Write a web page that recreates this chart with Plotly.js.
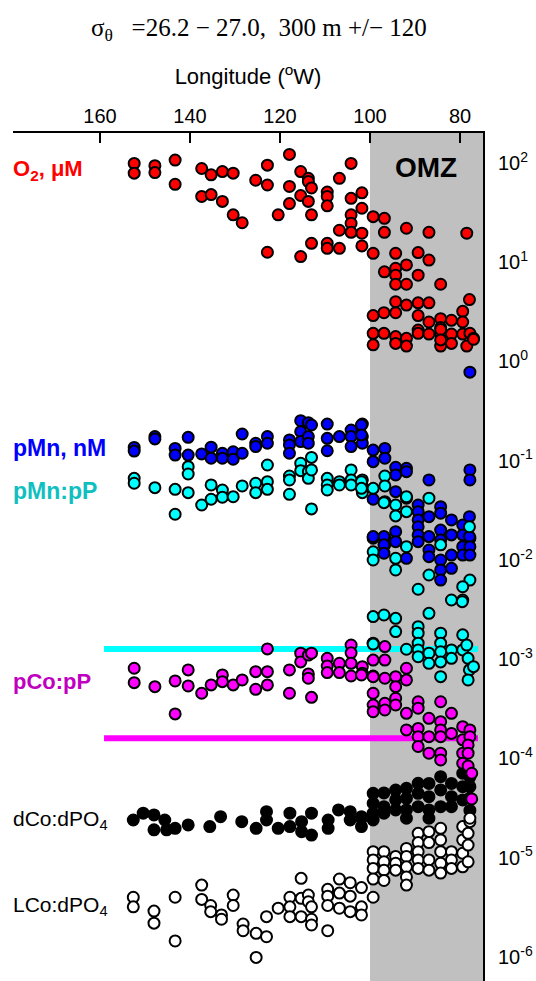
<!DOCTYPE html>
<html>
<head>
<meta charset="utf-8">
<script src="https://cdn.plot.ly/plotly-3.0.1.min.js"></script>
<style>html,body{margin:0;padding:0;background:#fff;}#chart{width:536px;height:981px;}</style>
</head>
<body>
<div id="chart"></div>
<script>
// ---- Data (longitude °W, value) ----
const o2Lon = [152.4,152.4,147.8,147.8,143.3,143.3,137.4,135.3,132.8,130.4,137.4,135.3,132.8,130.4,128.4,125.4,122.8,122.8,122.8,120.4,117.9,117.9,117.9,115.4,115.4,115.4,113.7,113.7,113.0,113.7,113.0,113.0,109.5,109.5,109.5,109.5,109.5,106.8,106.8,106.8,104.2,104.2,104.2,104.2,104.2,101.8,101.8,101.8,101.8,99.3,99.3,96.8,96.8,96.8,91.9,86.9,78.5,94.3,89.3,86.9,94.3,94.3,91.9,89.3,94.3,91.9,84.3,99.3,96.9,94.3,94.3,91.9,89.3,86.9,89.3,89.3,86.9,84.3,84.3,81.9,79.4,79.4,77.9,99.3,96.9,94.3,91.9,89.3,86.9,84.3,81.9,79.4,77.8,77.0,99.3,94.3,91.9,84.3,81.9,78.5,84.3,84.3,77.0];
const o2Val = [99,79,94,80,107,61,88,76,82,79,46,48,41,30,25,67,95,60,12.6,30,122,58,39,82,47,11.4,70,65,56,41,30,15.5,51,46,37,15.5,13.8,70,21,13.8,99,44,30,24.7,20,50,35,19.6,14.6,28.8,12.3,27.7,20,8.0,22,20,19.6,12.3,12.5,10.5,8.7,7.4,9.4,7.4,6.0,6.0,6.0,2.9,3.1,3.1,4.0,3.7,3.9,3.9,2.9,2.07,2.5,2.7,2.2,2.6,3.2,2.5,4.2,1.92,1.92,1.78,1.71,1.92,1.89,1.89,1.89,1.89,1.92,1.71,1.47,1.52,1.43,1.43,1.52,1.43,2.1,1.65,1.67];

const pmnLon = [152.4,152.4,147.8,147.8,143.3,143.3,140.4,140.4,137.4,135.3,135.3,132.8,132.8,130.4,130.4,128.4,128.4,125.4,125.4,122.8,122.8,117.9,117.9,117.9,115.4,115.4,115.4,113.7,113.0,113.7,113.7,109.5,109.5,109.5,106.8,104.2,104.2,104.2,101.7,101.7,101.7,99.3,99.3,99.3,96.7,96.7,99.3,96.7,96.7,101.9,101.9,94.3,94.3,91.9,91.9,86.9,77.8,77.8,94.3,91.9,89.3,89.3,89.3,86.9,84.3,84.3,81.9,79.4,77.9,77.8,99.3,96.9,96.9,96.9,94.3,94.3,91.9,89.3,89.3,89.3,86.9,86.9,86.9,84.3,84.3,84.3,84.3,84.3,81.9,81.9,81.9,79.4,79.4,79.4,77.9,77.8,77.8,77.8];
const pmnVal = [0.136,0.125,0.175,0.166,0.133,0.114,0.172,0.114,0.117,0.137,0.106,0.119,0.106,0.123,0.1035,0.186,0.119,0.150,0.139,0.175,0.150,0.162,0.144,0.119,0.253,0.196,0.156,0.242,0.229,0.175,0.150,0.234,0.168,0.126,0.175,0.204,0.175,0.139,0.234,0.175,0.150,0.128,0.0978,0.0409,0.133,0.106,0.0166,0.0166,0.0142,0.229,0.182,0.0859,0.0718,0.0839,0.0776,0.064,0.0807,0.064,0.0488,0.0419,0.0358,0.0307,0.0253,0.0273,0.0344,0.0296,0.0253,0.0225,0.0273,0.0166,0.0172,0.0172,0.0142,0.0117,0.0193,0.0153,0.0104,0.0216,0.0179,0.0153,0.0172,0.0126,0.0108,0.0200,0.0159,0.0100,0.00793,0.00628,0.0179,0.0112,0.00824,0.0179,0.0136,0.0112,0.0172,0.0136,0.0112,0.78];

const pmnpLon = [152.4,152.4,147.8,143.3,143.3,140.4,140.4,140.4,137.4,135.3,135.3,132.8,132.8,130.4,128.4,125.4,125.4,122.8,122.8,122.8,117.9,117.9,117.9,115.4,115.4,113.7,113.7,113.0,113.0,113.0,109.5,109.5,109.5,106.8,106.8,104.2,104.2,104.2,101.7,101.7,101.7,99.3,96.7,96.7,96.7,101.9,101.9,96.9,94.3,94.3,91.9,91.9,86.9,77.9,91.9,84.3,99.3,99.3,94.3,94.3,86.9,89.3,77.8,79.4,81.9,79.4,99.3,96.9,94.3,94.3,86.9,79.5,99.3,91.9,89.3,89.3,89.3,89.3,89.3,86.9,86.9,84.3,84.3,84.3,84.3,84.3,81.9,81.9,79.4,79.4,78.5,78.2,77.9,78.2,77.0,99.3];
const pmnpVal = [0.0665,0.0593,0.0535,0.0515,0.0289,0.0871,0.0735,0.0477,0.0358,0.057,0.0409,0.0507,0.0429,0.0434,0.0557,0.0593,0.0477,0.0906,0.0615,0.0515,0.0702,0.064,0.0459,0.0942,0.0794,0.0776,0.0665,0.108,0.0807,0.0327,0.0665,0.057,0.0507,0.0615,0.057,0.0807,0.064,0.057,0.064,0.0548,0.0477,0.0527,0.0702,0.0557,0.0387,0.0615,0.0527,0.0378,0.0358,0.0278,0.0434,0.0307,0.0419,0.0216,0.0136,0.0142,0.0121,0.0100,0.0104,0.00793,0.00706,0.00507,0.00628,0.00538,0.00395,0.00395,0.00269,0.00279,0.00258,0.0019,0.0029,0.0038,0.00145,0.00126,0.00213,0.00183,0.00145,0.00124,0.00106,0.00115,0.00091,0.00183,0.00145,0.00119,0.00094,0.000667,0.00124,0.00102,0.00176,0.00124,0.00139,0.00102,0.00078,0.000618,0.000841,0.00142];

const pcoLon = [152.4,152.4,147.8,143.3,143.3,140.4,140.4,137.4,135.3,132.8,132.8,130.4,128.4,125.4,125.4,122.8,122.8,122.8,117.9,117.9,115.4,115.4,113.7,113.0,113.7,113.7,113.0,109.5,109.5,109.5,106.8,106.8,104.2,104.2,104.2,104.2,101.7,101.7,99.3,99.3,99.3,99.3,99.3,96.7,96.7,96.7,96.7,96.7,101.9,99.3,94.3,94.3,91.9,91.9,94.3,94.3,91.9,89.3,89.3,84.3,81.9,91.9,89.3,89.3,89.3,86.9,86.9,86.9,84.3,84.3,84.3,84.3,84.3,81.9,79.4,79.4,79.4,79.4,77.8,77.8,78.2,78.2,78.2,77.4,77.4];
const pcoVal = [0.000811,0.000581,0.000529,0.000604,0.000281,0.00078,0.000538,0.000454,0.000551,0.000694,0.000594,0.000551,0.000618,0.00075,0.000498,0.00127,0.00075,0.000551,0.00078,0.000454,0.00115,0.00094,0.0011,0.00115,0.000711,0.000643,0.000413,0.00102,0.000855,0.000733,0.00091,0.000733,0.00139,0.00116,0.00091,0.000678,0.000841,0.000722,0.00098,0.000678,0.000454,0.000346,0.000296,0.00134,0.00098,0.000643,0.00036,0.000308,0.000694,0.000667,0.000667,0.000529,0.000811,0.000618,0.000404,0.000346,0.000285,0.000373,0.000321,0.000373,0.000285,0.000194,0.000201,0.000166,0.000132,0.000254,0.000166,0.000113,0.000235,0.000194,0.000166,0.000113,0.0000966,0.000179,0.000209,0.000154,0.000113,0.0000895,0.000194,0.000166,0.000137,0.000113,0.000084,0.000071,0.0000391];

const dcoLon = [152.6,150.4,148.0,148.0,145.6,145.2,143.3,140.4,135.6,133.2,128.5,125.3,123.0,123.0,120.4,117.8,117.8,115.2,115.2,113.0,113.0,109.3,109.3,107.0,104.4,104.4,101.9,101.9,99.3,99.3,96.9,94.3,91.9,89.3,89.3,86.9,84.3,84.3,81.9,79.4,79.4,77.8,101.9,99.3,96.9,94.3,91.9,89.3,86.9,84.3,81.9,79.4,91.9,86.9,99.3,96.9,94.3,91.9,86.9,81.9,77.8,77.8,77.8];
const dcoVal = [2.4e-5,2.81e-5,2.7e-5,1.91e-5,2.4e-5,1.91e-5,1.98e-5,2.14e-5,2.06e-5,2.59e-5,2.31e-5,1.98e-5,2.91e-5,2.4e-5,1.98e-5,2.81e-5,2.06e-5,2.31e-5,1.83e-5,2.81e-5,1.69e-5,2.4e-5,1.98e-5,3.03e-5,2.91e-5,2.4e-5,2.59e-5,2.06e-5,4.46e-5,3.54e-5,3.27e-5,3.82e-5,3.97e-5,5.62e-5,4.46e-5,4.12e-5,6.56e-5,4.82e-5,4.12e-5,7.1e-5,5.2e-5,5.2e-5,2.5e-5,2.81e-5,2.81e-5,3.03e-5,3.03e-5,3.27e-5,3.03e-5,3.27e-5,3.27e-5,3.82e-5,2.5e-5,2.5e-5,2.4e-5,4.5e-5,4.8e-5,5.0e-5,5.6e-5,5.6e-5,6.5e-5,4.0e-5,3.0e-5];

const lcoLon = [152.6,152.6,148.0,148.0,143.3,143.3,137.4,137.4,135.4,135.4,133.0,133.0,130.4,130.4,128.2,128.2,125.3,125.3,123.0,123.0,120.4,117.8,117.8,117.8,115.3,115.3,115.3,113.7,113.7,113.0,113.0,113.0,109.4,109.4,109.4,109.4,106.8,106.8,106.8,104.4,104.4,104.4,101.9,101.9,101.9,99.3,99.3,99.3,99.3,99.3,96.9,96.9,96.9,96.9,94.3,94.3,94.3,91.9,91.9,91.9,91.9,91.9,89.3,89.3,89.3,89.3,89.3,86.9,86.9,86.9,86.9,84.3,84.3,84.3,84.3,84.3,81.9,81.9,81.9,79.4,79.4,79.4,79.4,78.2,78.2,78.2,77.8,77.8];
const lcoVal = [4.0e-6,3.2e-6,2.9e-6,2.19e-6,4.0e-6,1.45e-6,5.3e-6,3.8e-6,3.3e-6,2.86e-6,2.65e-6,2.4e-6,4.2e-6,3.3e-6,2.15e-6,1.84e-6,1.73e-6,9.9e-7,2.55e-6,1.6e-6,3.1e-6,4.0e-6,3.2e-6,2.55e-6,6.2e-6,3.9e-6,2.55e-6,4.2e-6,3.6e-6,3.2e-6,2.4e-6,2.1e-6,4.8e-6,4.1e-6,3.3e-6,1.84e-6,6.1e-6,4.4e-6,3.1e-6,5.6e-6,4.1e-6,2.86e-6,5.0e-6,3.2e-6,2.65e-6,4.0e-6,1.15e-5,9.5e-6,7.8e-6,6.1e-6,1.15e-5,9.1e-6,7.5e-6,5.9e-6,1.03e-5,8.8e-6,7.5e-6,1.24e-5,1.03e-5,8.1e-6,6.4e-6,5.3e-6,1.76e-5,1.42e-5,1.15e-5,9.5e-6,7.8e-6,1.83e-5,1.42e-5,9.5e-6,7.5e-6,1.98e-5,1.51e-5,1.15e-5,8.8e-6,7.0e-6,1.15e-5,9.5e-6,7.8e-6,2.06e-5,1.51e-5,1.11e-5,8.1e-6,1.76e-5,1.34e-5,9.1e-6,2.31e-5,2.5e-5];

// reference lines
const refLineLon = [159.1, 76.0];
const cyanRef = [1.27e-3, 1.27e-3];
const magentaRef = [1.6e-4, 1.6e-4];

// axis
const omzEdge = 100;
const yTickVals = [1e-6,1e-5,1e-4,1e-3,1e-2,1e-1,1,10,100];
const yTickText = ['10<sup>-6</sup>','10<sup>-5</sup>','10<sup>-4</sup>','10<sup>-3</sup>','10<sup>-2</sup>','10<sup>-1</sup>','10<sup>0</sup>','10<sup>1</sup>','10<sup>2</sup>'];
const xTickVals = [160,140,120,100,80];

function pts(x, y, fill) {
  return {x: x, y: y, type: 'scatter', mode: 'markers', hoverinfo: 'skip',
    marker: {size: 11, color: fill, line: {color: '#000', width: 2}}};
}
function refLine(y, color) {
  return {x: refLineLon, y: y, type: 'scatter', mode: 'lines', hoverinfo: 'skip',
    line: {color: color, width: 6}};
}

const traces = [
  refLine(cyanRef, '#00ffff'),
  refLine(magentaRef, '#ff00ff'),
  pts(dcoLon, dcoVal, '#000000'),
  pts(lcoLon, lcoVal, '#ffffff'),
  pts(o2Lon, o2Val, '#ff0000'),
  pts(pmnLon, pmnVal, '#0000ff'),
  pts(pmnpLon, pmnpVal, '#00ffff'),
  pts(pcoLon, pcoVal, '#ff00ff')
];

const sans = 'Liberation Sans, Arial, sans-serif';
function label(text, y, color, bold, size) {
  return {xref: 'paper', yref: 'paper', x: -0.005, y: y, xanchor: 'left', yanchor: 'middle',
    showarrow: false, text: bold ? '<b>' + text + '</b>' : text,
    font: {family: sans, size: size, color: color}};
}

const layout = {
  width: 536, height: 981,
  margin: {l: 13, r: 53, t: 133, b: 0},
  paper_bgcolor: '#fff', plot_bgcolor: 'rgba(0,0,0,0)',
  showlegend: false,
  title: {text: 'σ<sub>θ</sub>   =26.2 − 27.0,  300 m +/− 120', x: 0.483, xanchor: 'center',
    y: 0.972, yanchor: 'middle', font: {family: 'Liberation Serif, Times New Roman, serif', size: 25, color: '#000'}},
  xaxis: {range: [179.33, 74.89], side: 'top', showgrid: false, zeroline: false,
    tickvals: xTickVals, ticks: 'inside', ticklen: 10, tickwidth: 1.5, tickcolor: '#000',
    showline: true, linecolor: '#000', linewidth: 2, mirror: false,
    tickfont: {family: sans, size: 20, color: '#000'},
    title: {text: 'Longitude (<sup>o</sup>W)', standoff: 14, font: {family: sans, size: 22, color: '#000'}}},
  yaxis: {type: 'log', range: [-6.242, 2.302], side: 'right', showgrid: false, zeroline: false,
    tickvals: yTickVals, ticktext: yTickText, ticks: '', ticklabelstandoff: 9,
    showline: true, linecolor: '#000', linewidth: 2,
    tickfont: {family: sans, size: 20, color: '#000'}},
  shapes: [{type: 'rect', xref: 'x', yref: 'paper', x0: omzEdge, x1: 74.89, y0: 0, y1: 1,
    fillcolor: '#c0c0c0', line: {width: 0}, layer: 'below'}],
  annotations: [
    label('O<sub>2</sub>, μM', 0.956, '#ff0000', true, 22),
    label('pMn, nM', 0.6285, '#0000ff', true, 23),
    label('pMn:pP', 0.578, '#10c0c0', true, 23),
    label('pCo:pP', 0.353, '#c000c0', true, 22),
    label('dCo:dPO<sub>4</sub>', 0.190, '#000000', false, 21),
    label('LCo:dPO<sub>4</sub>', 0.088, '#000000', false, 21),
    {xref: 'paper', yref: 'paper', x: 0.879, y: 0.959, xanchor: 'center', yanchor: 'middle', showarrow: false,
     text: '<b>OMZ</b>', font: {family: sans, size: 28, color: '#000'}}
  ]
};

Plotly.newPlot('chart', traces, layout, {staticPlot: true, displayModeBar: false});
</script>
</body>
</html>
